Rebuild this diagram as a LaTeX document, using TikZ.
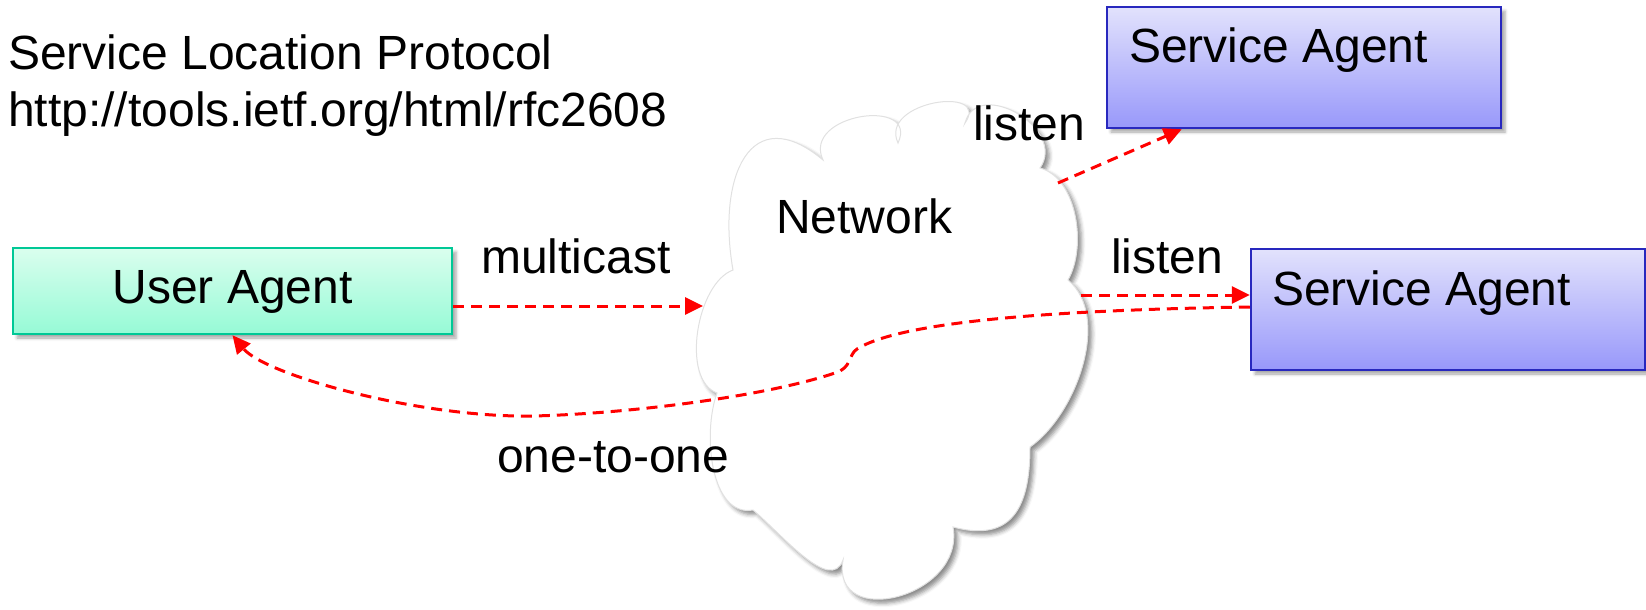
\documentclass[tikz,border=0pt]{standalone}
\usepackage{fontspec}
\setmainfont{Liberation Sans}
\usetikzlibrary{arrows.meta,shadows,shadows.blur,calc}

\definecolor{uaTop}{RGB}{218,254,238}
\definecolor{uaBot}{RGB}{150,250,214}
\definecolor{uaLine}{RGB}{0,200,150}
\definecolor{saTop}{RGB}{226,226,252}
\definecolor{saBot}{RGB}{152,152,250}
\definecolor{saLine}{RGB}{40,40,190}
\definecolor{msg}{RGB}{255,0,0}
\definecolor{cloudLine}{RGB}{225,225,225}

\tikzset{
  big/.style={font=\fontsize{48}{56}\selectfont, inner sep=0pt, anchor=base west},
  agentbox/.style={rectangle, draw, line width=2.5pt, inner sep=0pt,
    blur shadow={shadow xshift=4pt, shadow yshift=-4pt, shadow blur radius=3pt,
      shadow opacity=35}},
  userbox/.style={agentbox, draw=uaLine, top color=uaTop, bottom color=uaBot,
    minimum width=439pt, minimum height=86pt},
  servicebox/.style={agentbox, draw=saLine, top color=saTop, bottom color=saBot,
    minimum width=394pt, minimum height=121pt},
  msgline/.style={draw=msg, line width=3pt, dash pattern=on 11pt off 7pt,
    -{Triangle[length=18pt,width=17pt]}},
  cloudpath/.style={draw=cloudLine, line width=1pt, fill=white,
    blur shadow={shadow xshift=4pt, shadow yshift=-4pt, shadow blur radius=4pt,
      shadow opacity=45}},
}

\begin{document}
\begin{tikzpicture}[x=1pt,y=1pt]
  \useasboundingbox (0,0) rectangle (1646,-610);

  % network cloud, one puff per segment, clockwise from the left
  \path[cloudpath] (717,-393) to[out=160,in=200,looseness=0.8] (733,-270)
    to[out=100,in=140,looseness=1.7] (823,-160)
    to[out=115,in=65,looseness=1.7] (898,-143)
    to[out=115,in=55,looseness=1.7] (965,-123)
    to[out=75,in=55,looseness=1.4] (1040,-168)
    to[out=-15,in=60,looseness=0.85] (1068,-280)
    to[out=-40,in=35,looseness=0.85] (1030,-447)
    to[out=-90,in=-15,looseness=1.4] (953,-527)
    to[out=-80,in=-100,looseness=1.6] (843,-560)
    to[out=-110,in=-40,looseness=0.9] (753,-510)
    to[out=-170,in=-110,looseness=0.9] (717,-393) -- cycle;
  \node[big] (nettext) at (776,-233) {Network};

  % title
  \node[big] (title1) at (8,-70) {Service Location Protocol};
  \node[big] (title2) at (8,-126) {http://tools.ietf.org/html/rfc2608};

  % agents
  \node[userbox] (ua) at (232.5,-291) {};
  \node[big, anchor=base] (uatext) at (232.5,-303) {User Agent};
  \node[servicebox] (sa1) at (1304,-67.5) {};
  \node[big] (sa1text) at (1129,-63) {Service Agent};
  \node[servicebox] (sa2) at (1448,-309.5) {};
  \node[big] (sa2text) at (1272,-305) {Service Agent};

  % labels
  \node[big] (lmulti) at (481,-273) {multicast};
  \node[big] (llisten1) at (973,-140) {listen};
  \node[big] (llisten2) at (1111,-273) {listen};
  \node[big] (lone) at (497,-472) {one-to-one};

  % messages
  \coordinate (netW) at (703,-306);
  \coordinate (netNE) at (1058,-183);
  \coordinate (netE) at (1081,-295);
  \draw[msgline] ([yshift=-15pt]ua.east) -- (netW);
  \draw[msgline] (netNE) -- ($(sa1.south west)+(76,0)$);
  \draw[msgline] (netE) -- ([yshift=14.5pt]sa2.west);
  \draw[msgline] ([yshift=2.5pt]sa2.west)
    .. controls (1050,-310) and (900,-322) .. (857,-349)
    .. controls (848,-355) and (852,-368) .. (835,-373)
    .. controls (760,-398) and (620,-414) .. (533,-416)
    .. controls (420,-418) and (265,-375) .. (ua.south);
\end{tikzpicture}
\end{document}
